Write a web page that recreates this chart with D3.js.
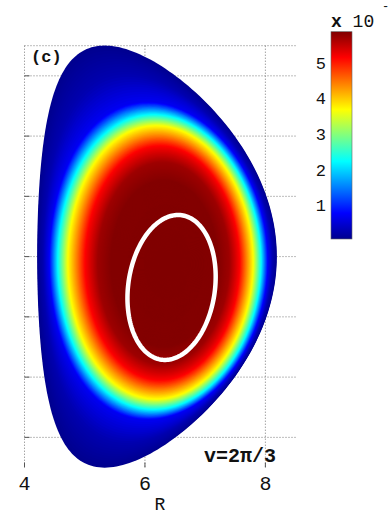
<!DOCTYPE html>
<html><head><meta charset="utf-8">
<script src="https://cdn.jsdelivr.net/npm/d3@7"></script>
<style>html,body{margin:0;padding:0;background:#fff;} svg{display:block;}</style>
</head><body>
<svg id="chart" width="391" height="516"></svg>
<script>
// Axis ticks
const xTicks = [4, 6, 8];
const yTicks = [-3, -2, -1, 0, 1, 2, 3];
const colorbarTicks = [1, 2, 3, 4, 5];

// Radial profile of the plotted quantity against the flux label rho
const profileRho   = [0, 0.45, 0.55, 0.645, 0.71, 0.775, 0.85, 0.915, 0.96, 1];
const profileValue = [5.89, 5.87, 5.72, 5.18, 4.43, 3.70, 2.25, 0.72, 0.26, 0.06];

// Flux-surface shape against rho (elongation, triangularity, centre shifts)
const shapeRho    = [0, 0.6, 0.85, 0.915, 1];
const shapeKappa  = [1.58, 1.53, 1.45, 1.45, 1.76];
const shapeDelta  = [0, 0.02, 0.06, 0.10, 0.452];
const shapeShiftR = [0.20, 0.10, 0.04, 0.025, 0];
const shapeShiftZ = [-0.13, -0.11, -0.09, -0.07, 0];

// Boundary geometry
const majorRadius = 6.2;
const minorRadius = 1.99;

// Marked surface (white curve)
const ellipseCenter = [6.442, -0.512];
const ellipseAxes = [0.72, 1.21];
const ellipseTiltDeg = 8;

const colorDomain = [0.06, 5.89];
const jetStops  = [0, 0.125, 0.375, 0.625, 0.875, 1];
const jetColors = ["#00008f", "#0000ff", "#00ffff", "#ffff00", "#ff0000", "#800000"];

const svg = d3.select("#chart");
const mono = "'Liberation Mono', 'DejaVu Sans Mono', monospace";

const x = d3.scaleLinear().domain([4, 8.5]).range([24.5, 295.5]);
const y = d3.scaleLinear().domain([-3.5, 3.5]).range([467.5, 45.7]);

const color = d3.scaleLinear()
  .domain(jetStops.map(t => colorDomain[0] + t * (colorDomain[1] - colorDomain[0])))
  .range(jetColors)
  .interpolate(d3.interpolateRgb)
  .clamp(true);

const profile = d3.scaleLinear().domain(profileRho).range(profileValue).clamp(true);
const kappa  = d3.scaleLinear().domain(shapeRho).range(shapeKappa);
const delta  = d3.scaleLinear().domain(shapeRho).range(shapeDelta);
const shiftR = d3.scaleLinear().domain(shapeRho).range(shapeShiftR);
const shiftZ = d3.scaleLinear().domain(shapeRho).range(shapeShiftZ);

// Grid
const grid = svg.append("g").attr("stroke", "#7a7a7a").attr("stroke-width", 1)
  .attr("stroke-dasharray", "1,2").attr("fill", "none");
xTicks.forEach(v => grid.append("line")
  .attr("x1", x(v)).attr("x2", x(v)).attr("y1", y(3.5)).attr("y2", y(-3.5)));
yTicks.concat([3.5]).forEach(v => grid.append("line")
  .attr("x1", x(4)).attr("x2", x(8.5)).attr("y1", y(v)).attr("y2", y(v)));

// Tick marks
const tk = svg.append("g").attr("stroke", "#555").attr("stroke-width", 1);
xTicks.forEach(v => tk.append("line")
  .attr("x1", x(v)).attr("x2", x(v)).attr("y1", y(-3.5)).attr("y2", y(-3.5) - 5));
yTicks.forEach(v => tk.append("line")
  .attr("x1", x(4)).attr("x2", x(4) + 5).attr("y1", y(v)).attr("y2", y(v)));

// Filled flux surfaces, outermost first
const nTheta = 240;
const thetas = d3.range(nTheta).map(i => 2 * Math.PI * i / nTheta);
function surface(rho) {
  const k = kappa(rho), d = delta(rho), dr = shiftR(rho), dz = shiftZ(rho);
  return thetas.map(t => [
    majorRadius + dr + rho * minorRadius * Math.cos(t + d * Math.sin(t)),
    dz + k * rho * minorRadius * Math.sin(t)
  ]);
}
const line = d3.line().x(p => x(p[0])).y(p => y(p[1])).curve(d3.curveLinearClosed);
const nLevels = 260;
const levels = d3.range(nLevels, 0, -1).map(i => i / nLevels);
svg.append("g").selectAll("path").data(levels).join("path")
  .attr("d", r => line(surface(r)))
  .attr("fill", r => color(profile(r)));

// White marked surface
const phi = ellipseTiltDeg * Math.PI / 180;
const ellipsePts = d3.range(200).map(i => {
  const t = 2 * Math.PI * i / 200;
  const a = ellipseAxes[0] * Math.cos(t), b = ellipseAxes[1] * Math.sin(t);
  return [ellipseCenter[0] + a * Math.cos(phi) + b * Math.sin(phi),
          ellipseCenter[1] - a * Math.sin(phi) + b * Math.cos(phi)];
});
svg.append("path").attr("d", line(ellipsePts))
  .attr("fill", "none").attr("stroke", "#fff").attr("stroke-width", 4.5);

// Axis labels
svg.append("g").selectAll("text").data(xTicks).join("text")
  .attr("x", v => x(v)).attr("y", 490).attr("text-anchor", "middle")
  .attr("font-family", mono).attr("font-size", 20).attr("fill", "#111").text(v => v);
svg.append("text").attr("x", 160).attr("y", 510).attr("text-anchor", "middle")
  .attr("font-family", mono).attr("font-size", 18).attr("fill", "#111").text("R");

svg.append("text").attr("x", 31).attr("y", 62)
  .attr("font-family", mono).attr("font-size", 17).attr("font-weight", "bold").attr("fill", "#111").text("(c)");
svg.append("text").attr("x", 204).attr("y", 462)
  .attr("font-family", mono).attr("font-size", 20).attr("font-weight", "bold").attr("fill", "#111").text("v=2π/3");

// Colour bar
const cb = {x: 331, w: 21};
const cy = d3.scaleLinear().domain(colorDomain).range([239, 31.7]);
const defs = svg.append("defs");
const grad = defs.append("linearGradient").attr("id", "jetbar")
  .attr("x1", 0).attr("y1", 1).attr("x2", 0).attr("y2", 0);
grad.selectAll("stop").data(jetStops).join("stop")
  .attr("offset", t => t).attr("stop-color", (t, i) => jetColors[i]);
svg.append("rect").attr("x", cb.x).attr("y", cy(colorDomain[1]))
  .attr("width", cb.w).attr("height", cy(colorDomain[0]) - cy(colorDomain[1]))
  .attr("fill", "url(#jetbar)").attr("stroke", "#666").attr("stroke-width", 0.6);
svg.append("g").selectAll("text").data(colorbarTicks).join("text")
  .attr("x", 326).attr("y", v => cy(v) + 5.5).attr("text-anchor", "end")
  .attr("font-family", mono).attr("font-size", 17).attr("fill", "#111").text(v => v);
const mult = svg.append("text").attr("x", 331).attr("y", 27)
  .attr("font-family", mono).attr("font-size", 18).attr("fill", "#111");
mult.append("tspan").attr("font-weight", "bold").text("x");
mult.append("tspan").text(" 10");
svg.append("text").attr("x", 382).attr("y", 10)
  .attr("font-family", mono).attr("font-size", 12).attr("fill", "#111").text("-");
</script>
</body></html>
